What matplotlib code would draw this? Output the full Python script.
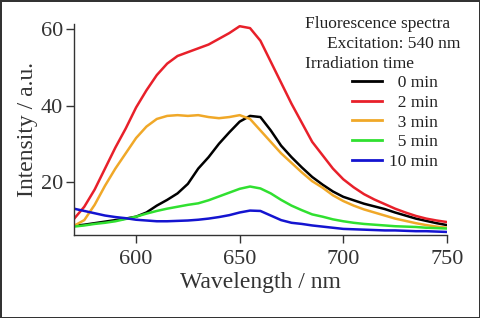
"""
Fluorescence spectra vs irradiation time (excitation 540 nm)
"""

import numpy as np
import matplotlib
matplotlib.use("Agg")
import matplotlib.pyplot as plt

plt.rcParams['font.family'] = ['Liberation Serif', 'DejaVu Serif']

# ============================================================
# DATA
# ============================================================
wavelength = [570, 575, 580, 585, 590, 595, 600, 605, 610, 615, 620, 625, 630,
              635, 640, 645, 650, 655, 660, 665, 670, 675, 680, 685, 690, 695,
              700, 705, 710, 715, 720, 725, 730, 735, 740, 745, 750]

int_0min = [8.5, 8.8, 9.2, 9.6, 10.0, 10.4, 10.9, 12.0, 13.8, 15.3, 17.0, 19.5, 23.5,
            26.5, 30.0, 33.0, 35.8, 37.3, 37.0, 33.5, 29.5, 26.5, 23.8, 21.3, 19.3, 17.5,
            16.1, 15.2, 14.3, 13.6, 12.9, 12.0, 11.2, 10.4, 9.8, 9.2, 8.7]

int_2min = [10.3, 13.5, 18.0, 23.5, 29.0, 34.0, 39.5, 44.0, 48.0, 51.0, 53.0, 54.0, 55.0,
            56.0, 57.5, 59.0, 60.8, 60.3, 57.0, 51.5, 46.0, 40.5, 35.5, 30.5, 27.0, 23.5,
            20.7, 18.6, 16.8, 15.4, 14.2, 13.0, 12.0, 11.1, 10.4, 9.9, 9.5]

int_3min = [8.5, 10.0, 14.0, 19.0, 23.5, 27.5, 31.5, 34.5, 36.5, 37.3, 37.5, 37.3, 37.5,
            37.0, 36.7, 37.0, 37.5, 36.5, 33.5, 30.5, 27.5, 25.0, 22.5, 20.2, 18.5, 16.5,
            15.0, 13.8, 12.8, 12.0, 11.2, 10.4, 9.8, 9.2, 8.7, 8.3, 8.0]

int_5min = [8.3, 8.6, 9.0, 9.3, 9.7, 10.3, 10.9, 11.7, 12.4, 13.0, 13.5, 14.0, 14.4,
            15.2, 16.2, 17.2, 18.2, 18.8, 18.3, 17.0, 15.3, 13.8, 12.6, 11.5, 10.9, 10.2,
            9.7, 9.3, 9.0, 8.8, 8.6, 8.4, 8.3, 8.2, 8.0, 7.9, 7.8]

int_10min = [13.0, 12.4, 11.8, 11.2, 10.8, 10.5, 10.1, 9.9, 9.7, 9.7, 9.8, 9.9, 10.1,
             10.4, 10.8, 11.3, 12.0, 12.5, 12.4, 11.2, 10.0, 9.3, 9.0, 8.6, 8.3, 8.0,
             7.7, 7.6, 7.5, 7.4, 7.3, 7.3, 7.2, 7.1, 7.1, 7.0, 6.9]

labels = ["\u20070 min", "\u20072 min", "\u20073 min", "\u20075 min", "10 min"]
cores = ["#000000", "#e8202a", "#f0a828", "#30e030", "#1414d0"]

# ============================================================
# FIGURA
# ============================================================
fig = plt.figure(figsize=(4.8, 3.18), dpi=100, edgecolor="#333333", linewidth=2)
ax = fig.add_axes([0.154, 0.261, 0.777, 0.665])

series = [int_0min, int_2min, int_3min, int_5min, int_10min]
for y, lab, c in zip(series, labels, cores):
    ax.plot(wavelength, y, color=c, lw=1.8, label=lab)

ax.set_xlim(570, 750)
ax.set_ylim(6.1, 61.5)
ax.set_xticks([600, 650, 700, 750])
ax.set_yticks([20, 40, 60])

for s in ['top', 'right']:
    ax.spines[s].set_visible(False)
for s in ['left', 'bottom']:
    ax.spines[s].set_linewidth(1.0)
    ax.spines[s].set_color("#333333")

ax.tick_params(axis='both', direction='out', length=6, width=1.0,
               labelsize=16, color="#333333", labelcolor="#333333")
ax.tick_params(axis='x', pad=5)
ax.tick_params(axis='y', pad=2)

ax.set_xlabel("Wavelength / nm", fontsize=17, color="#333333", labelpad=2)
ax.set_ylabel("Intensity / a.u.", fontsize=17, color="#333333", labelpad=2)

# cabeçalho da legenda
fs_leg = 12.5
ax.text(0.619, 0.998, "Fluorescence spectra", transform=ax.transAxes,
        fontsize=fs_leg, color="#222222", va='center')
ax.text(0.678, 0.903, "Excitation: 540 nm", transform=ax.transAxes,
        fontsize=fs_leg, color="#222222", va='center')
ax.text(0.619, 0.808, "Irradiation time", transform=ax.transAxes,
        fontsize=fs_leg, color="#222222", va='center')

leg = ax.legend(loc='upper left', bbox_to_anchor=(0.745, 0.756), frameon=False,
                fontsize=fs_leg, handlelength=1.72, handletextpad=0.45,
                labelspacing=0.2, borderpad=0, borderaxespad=0)
for t in leg.get_texts():
    t.set_color("#222222")
for h in leg.get_lines():
    h.set_linewidth(2)

fig.savefig("out.png", dpi=100, edgecolor=fig.get_edgecolor())
